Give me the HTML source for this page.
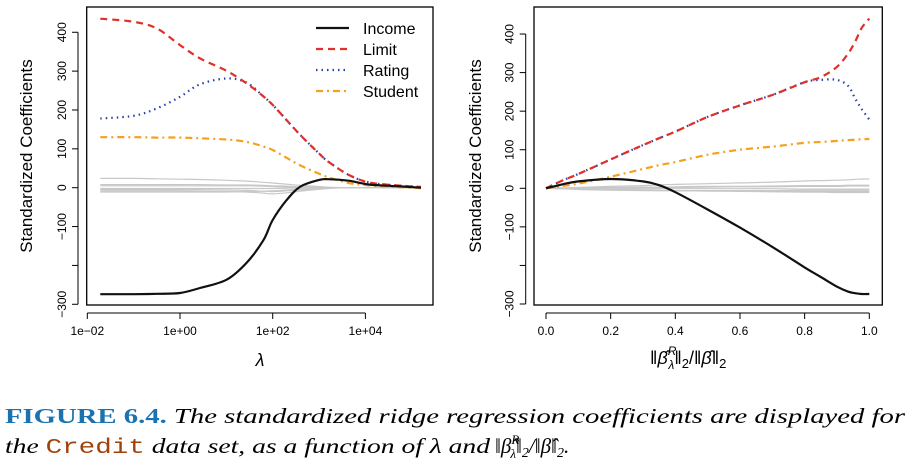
<!DOCTYPE html>
<html><head><meta charset="utf-8"><style>
html,body{margin:0;padding:0;background:#fff;width:916px;height:467px;overflow:hidden}
svg text{font-family:"Liberation Sans",sans-serif}
.cap{font-family:"Liberation Serif",serif;font-style:italic;font-size:21px}
</style></head><body>
<svg id="fig" width="916" height="467" viewBox="0 0 916 467" xmlns="http://www.w3.org/2000/svg">
<g id="left"></g>
<g id="right"></g>
<g>
<text class="cap" x="5" y="423" textLength="900" lengthAdjust="spacingAndGlyphs"><tspan font-style="normal" font-weight="bold" fill="#1a73b0">FIGURE 6.4.</tspan> The standardized ridge regression coefficients are displayed for</text>
<text class="cap" x="5" y="453" textLength="485" lengthAdjust="spacingAndGlyphs">the <tspan font-family="Liberation Mono,monospace" font-style="normal" fill="#a0420a">Credit</tspan> data set, as a function of λ and</text>
<text class="cap" x="495" y="453">‖β̂<tspan font-size="13" dy="-9">R</tspan><tspan font-size="13" dx="-9" dy="14">λ</tspan><tspan dy="-5">‖</tspan><tspan font-size="14" dy="4">2</tspan><tspan dy="-4">/‖β̂‖</tspan><tspan font-size="14" dy="4">2</tspan><tspan dy="-4">.</tspan></text>
</g>
</svg>
<script>
// ---- left panel data (x = log10 lambda) ----
const lamX = [-1.72,-1,-0.5,0,0.43,1,1.43,1.8,2,2.3,2.6,3,3.2,3.64,4.1,4.8,5.2];
const incomeL = [-274,-274,-273,-271,-258,-237,-194,-135,-83,-32,3,20,22,18,8,3,0];
const limitL = [435,427,410,367,333,301,269,235,213,174,135,88,67,33,13,5,2];
const ratingL = [178,185,204,234,266,281,271,235,213,174,135,88,67,33,13,5,2];
const studentL = [130,130,129,129,127,124,118,106,97,77,57,36,27,12,6,1,-1];
const grayL = [
 [24,24,23,22,21,19,17,14,12,9,6,3,1,0,0,0,0],
 [8,8,8,8,8,7,7,6,5,4,2,1,1,0,0,0,0],
 [5,5,5,5,5,5,5,4,3,2,1,1,0,0,0,0,0],
 [-2,-2,-2,-2,-2,-2,-2,-2,-2,-1,-1,0,0,0,0,0,0],
 [-5,-5,-5,-5,-5,-6,-7,-9,-10,-8,-6,-3,-1,0,0,0,0],
 [-8,-8,-8,-8,-9,-10,-11,-14,-16,-13,-9,-4,-2,0,0,0,0],
 [-11,-11,-11,-11,-11,-11,-10,-9,-8,-6,-4,-2,-1,0,0,0,0]
];
const lamTicks = [-2,0,2,4];
const lamTickLabels = ["1e\u221202","1e+00","1e+02","1e+04"];
// ---- right panel data (x = shrinkage ratio) ----
const ratioX = [0,0.05,0.1,0.2,0.3,0.35,0.4,0.5,0.6,0.7,0.8,0.85,0.9,0.935,0.956,0.976,1.0];
const incomeR = [0,10,18,24,18,8,-10,-55,-102,-152,-205,-230,-255,-268,-272,-274,-274];
const limitR = [0,20,37,75,112,130,147,185,215,242,275,288,315,350,380,415,440];
const ratingR = [0,20,37,75,112,130,147,185,215,242,275,281,281,265,233,206,178];
const studentR = [0,6,12,30,50,60,68,87,100,108,118,120,123,125,126,127,128];
const grayR = [
 [0,1,2,5,7,9,10,12,14,16,19,20,21,22,23,24,24],
 [0,0,1,2,3,3,4,5,5,6,7,7,7,8,8,8,8],
 [0,0,0,1,2,2,2,3,4,4,5,5,5,6,6,6,6],
 [0,0,0,0,-1,-1,-1,-1,-1,-1,-2,-2,-2,-2,-2,-2,-2],
 [0,-1,-3,-5,-6,-6,-6,-6,-6,-6,-5,-5,-5,-5,-5,-5,-5],
 [0,-1,-2,-4,-5,-6,-6,-7,-7,-7,-8,-8,-8,-8,-8,-8,-8],
 [0,-1,-1,-3,-4,-5,-6,-7,-8,-9,-10,-10,-11,-11,-11,-11,-11]
];
const ratioTicks = [0,0.2,0.4,0.6,0.8,1.0];
const ratioTickLabels = ["0.0","0.2","0.4","0.6","0.8","1.0"];
const yTicks = [400,300,200,100,0,-100,-200,-300];
const yTickLabels = ["400","300","200","100","0","\u2212100","","\u2212300"];

const NS="http://www.w3.org/2000/svg";
function mk(parent,tag,attrs,text){const e=document.createElementNS(NS,tag);for(const k in attrs)e.setAttribute(k,attrs[k]);if(text!==undefined)e.textContent=text;parent.appendChild(e);return e;}

function panel(g,cfg){
  const sx=v=>cfg.x0+(v-cfg.v0)*cfg.kx;
  const sy=v=>cfg.y0-v*cfg.ky;
  const box=mk(g,'rect',{x:cfg.bx0,y:7,width:cfg.bx1-cfg.bx0,height:298,fill:'none',stroke:'#000','stroke-width':1.3});
  
  
  const ya=mk(g,'g',{});
  
  
  mk(ya,'line',{x1:cfg.ax,x2:cfg.ax,y1:sy(400),y2:sy(-300),stroke:'#000'});
  yTicks.forEach((t,i)=>{
    mk(ya,'line',{x1:cfg.ax-6,x2:cfg.ax,y1:sy(t),y2:sy(t),stroke:'#000'});
    if(yTickLabels[i]){const tl=mk(ya,'text',{x:cfg.ax-12,y:sy(t),'font-size':12,'text-anchor':'middle',transform:`rotate(-90 ${cfg.ax-12} ${sy(t)})`},yTickLabels[i]);
      
      }
  });
  const yt=mk(g,'text',{x:cfg.ylx,y:156,'font-size':17,'text-anchor':'middle',transform:`rotate(-90 ${cfg.ylx} 156)`},'Standardized Coefficients');
  
  
  const xa=mk(g,'g',{});
  
  
  mk(xa,'line',{x1:sx(cfg.ticks[0]),x2:sx(cfg.ticks[cfg.ticks.length-1]),y1:313,y2:313,stroke:'#000'});
  cfg.ticks.forEach((t,i)=>{
    mk(xa,'line',{x1:sx(t),x2:sx(t),y1:313,y2:319,stroke:'#000'});
    const tl=mk(xa,'text',{x:sx(t),y:335,'font-size':12,'text-anchor':'middle'},cfg.tickLabels[i]);
    
    
  });
  // smooth Catmull-Rom path through data points
  const path=(xs,ys)=>{
    const P=xs.map((x,i)=>[sx(x),sy(ys[i])]);
    let d='M'+P[0][0].toFixed(1)+' '+P[0][1].toFixed(1);
    for(let i=0;i<P.length-1;i++){
      const p0=P[Math.max(0,i-1)],p1=P[i],p2=P[i+1],p3=P[Math.min(P.length-1,i+2)];
      const c1=[p1[0]+(p2[0]-p0[0])/6,p1[1]+(p2[1]-p0[1])/6];
      const c2=[p2[0]-(p3[0]-p1[0])/6,p2[1]-(p3[1]-p1[1])/6];
      d+=` C${c1[0].toFixed(1)} ${c1[1].toFixed(1)} ${c2[0].toFixed(1)} ${c2[1].toFixed(1)} ${p2[0].toFixed(1)} ${p2[1].toFixed(1)}`;
    }
    return d;
  };
  cfg.gray.forEach(arr=>{const p=mk(g,'path',{d:path(cfg.xs,arr),fill:'none',stroke:'#c8c8c8','stroke-width':1.2});
    
    });
  const series=[
    [cfg.student,'#f5a01f','7 4 2 4','student-line'],
    [cfg.rating,'#2a3fa8','1.5 4','rating-line'],
    [cfg.limit,'#e0302a','7 5','limit-line'],
    [cfg.income,'#111','','income-line']];
  series.forEach(s=>{const p=mk(g,'path',{d:path(cfg.xs,s[0]),fill:'none',stroke:s[1],'stroke-width':2.2,'stroke-dasharray':s[2],'stroke-linejoin':'round'});
    
    });
}
const L=document.getElementById('left'), R=document.getElementById('right');
panel(L,{x0:87.3,v0:-2,kx:46.35,y0:187.7,ky:0.3886,bx0:86.7,bx1:433,ax:78,ylx:32,ticks:lamTicks,tickLabels:lamTickLabels,xs:lamX,income:incomeL,limit:limitL,rating:ratingL,student:studentL,gray:grayL});
panel(R,{x0:546,v0:0,kx:323.3,y0:188.3,ky:0.3857,bx0:534,bx1:882.3,ax:525.7,ylx:481,ticks:ratioTicks,tickLabels:ratioTickLabels,xs:ratioX,income:incomeR,limit:limitR,rating:ratingR,student:studentR,gray:grayR});
const lt=mk(L,'text',{x:260,y:366,'font-size':18,'font-style':'italic','text-anchor':'middle','font-family':'Liberation Serif,serif'},'λ');


const rt=mk(R,'text',{x:650,y:364,'font-size':18,'font-family':'Liberation Serif,serif'});


rt.innerHTML='‖<tspan font-style="italic">β̂</tspan><tspan font-size="12" font-style="italic" dy="-9">R</tspan><tspan font-size="12" font-style="italic" dx="-8" dy="14">λ</tspan><tspan dy="-5">‖</tspan><tspan font-size="13" dy="4">2</tspan><tspan dy="-4">/‖</tspan><tspan font-style="italic">β̂</tspan>‖<tspan font-size="13" dy="4">2</tspan>';
const leg=mk(L,'g',{});


[['Income','#111',''],['Limit','#e0302a','7 5'],['Rating','#2a3fa8','1.5 4'],['Student','#f5a01f','7 4 2 4']].forEach((e,i)=>{
  const y=28+i*21;
  const ge=mk(leg,'g',{});
  
  
  mk(ge,'line',{x1:316,x2:349,y1:y,y2:y,stroke:e[1],'stroke-width':2.2,'stroke-dasharray':e[2]});
  mk(ge,'text',{x:363,y:y+6,'font-size':16},e[0]);
});
</script>
</body></html>
